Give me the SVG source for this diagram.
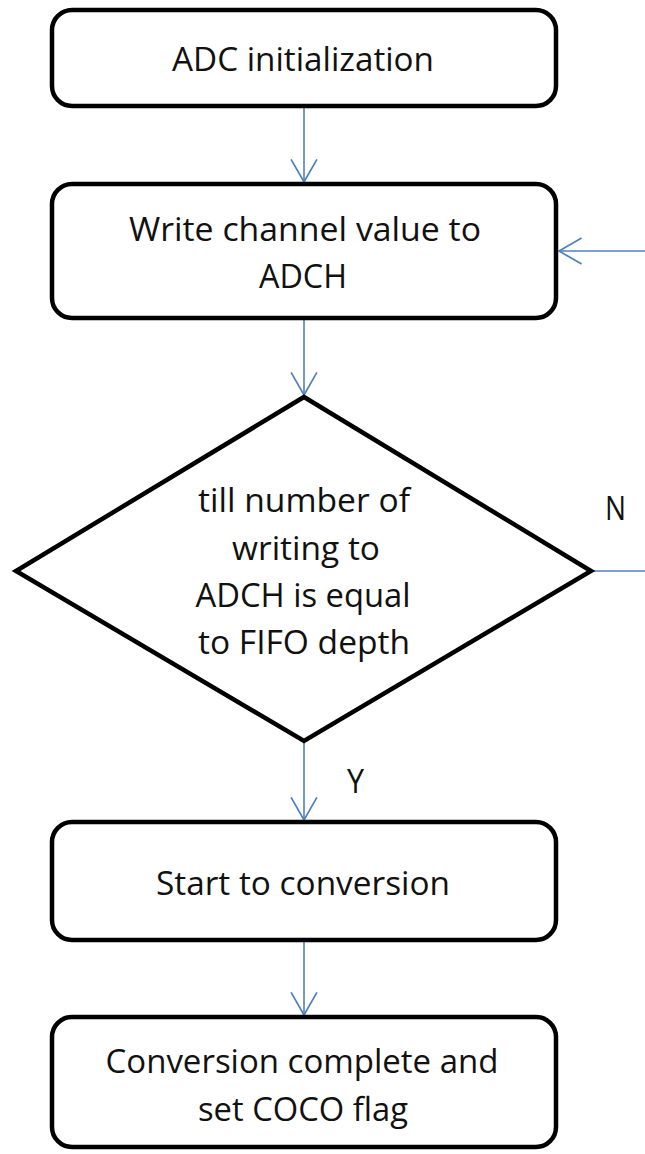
<svg xmlns="http://www.w3.org/2000/svg" width="645" height="1154" viewBox="0 0 645 1154">
<style>
.box{fill:#ffffff;stroke:#000000;stroke-width:4.5}
.lbl{font-family:"Open Sans","Liberation Sans",sans-serif;font-size:33px;fill:#111111;text-anchor:middle}
.tag{font-family:"Open Sans","Liberation Sans",sans-serif;font-size:32px;fill:#111111}
.con{fill:none;stroke:#4F81BD;stroke-width:1.6}
</style>
<defs>
<marker id="ah" markerUnits="userSpaceOnUse" markerWidth="26" markerHeight="28" viewBox="-1 -1 24 26" refX="21" refY="12" orient="auto">
<path d="M0,0 L21,12 L0,24" fill="none" stroke="#4F81BD" stroke-width="1.6"/>
</marker>
</defs>
<rect width="645" height="1154" fill="#ffffff"/>
<g id="connectors">
<path class="con" d="M304,108 V182" marker-end="url(#ah)"/>
<path class="con" d="M304,320 V395" marker-end="url(#ah)"/>
<path class="con" d="M304,743 V820" marker-end="url(#ah)"/>
<path class="con" d="M304,942 V1015" marker-end="url(#ah)"/>
<path class="con" d="M593,571 H650 V251 H559" marker-end="url(#ah)"/>
<text class="tag" x="605" y="520" textLength="21" lengthAdjust="spacingAndGlyphs">N</text>
<text class="tag" x="347" y="793" textLength="17" lengthAdjust="spacingAndGlyphs">Y</text>
</g>
<g id="n1">
<rect class="box" x="52" y="10" width="504" height="96" rx="20" ry="20"/>
<text class="lbl" x="303" y="71" textLength="262" lengthAdjust="spacingAndGlyphs">ADC initialization</text>
</g>
<g id="n2">
<rect class="box" x="52" y="184" width="504" height="134" rx="20" ry="20"/>
<text class="lbl" x="305" y="241" textLength="352" lengthAdjust="spacingAndGlyphs">Write channel value to</text>
<text class="lbl" x="303" y="288" textLength="88" lengthAdjust="spacingAndGlyphs">ADCH</text>
</g>
<g id="n3">
<polygon class="box" points="304,397 591,571 304,741 16,571"/>
<text class="lbl" x="304" y="512" textLength="212" lengthAdjust="spacingAndGlyphs">till number of</text>
<text class="lbl" x="306" y="560" textLength="148" lengthAdjust="spacingAndGlyphs">writing to</text>
<text class="lbl" x="303" y="607" textLength="215" lengthAdjust="spacingAndGlyphs">ADCH is equal</text>
<text class="lbl" x="304" y="654" textLength="212" lengthAdjust="spacingAndGlyphs">to FIFO depth</text>
</g>
<g id="n4">
<rect class="box" x="52" y="822" width="504" height="118" rx="20" ry="20"/>
<text class="lbl" x="303" y="895" textLength="294" lengthAdjust="spacingAndGlyphs">Start to conversion</text>
</g>
<g id="n5">
<rect class="box" x="52" y="1017" width="504" height="130" rx="20" ry="20"/>
<text class="lbl" x="302" y="1073" textLength="393" lengthAdjust="spacingAndGlyphs">Conversion complete and</text>
<text class="lbl" x="303" y="1121" textLength="210" lengthAdjust="spacingAndGlyphs">set COCO flag</text>
</g>
</svg>
